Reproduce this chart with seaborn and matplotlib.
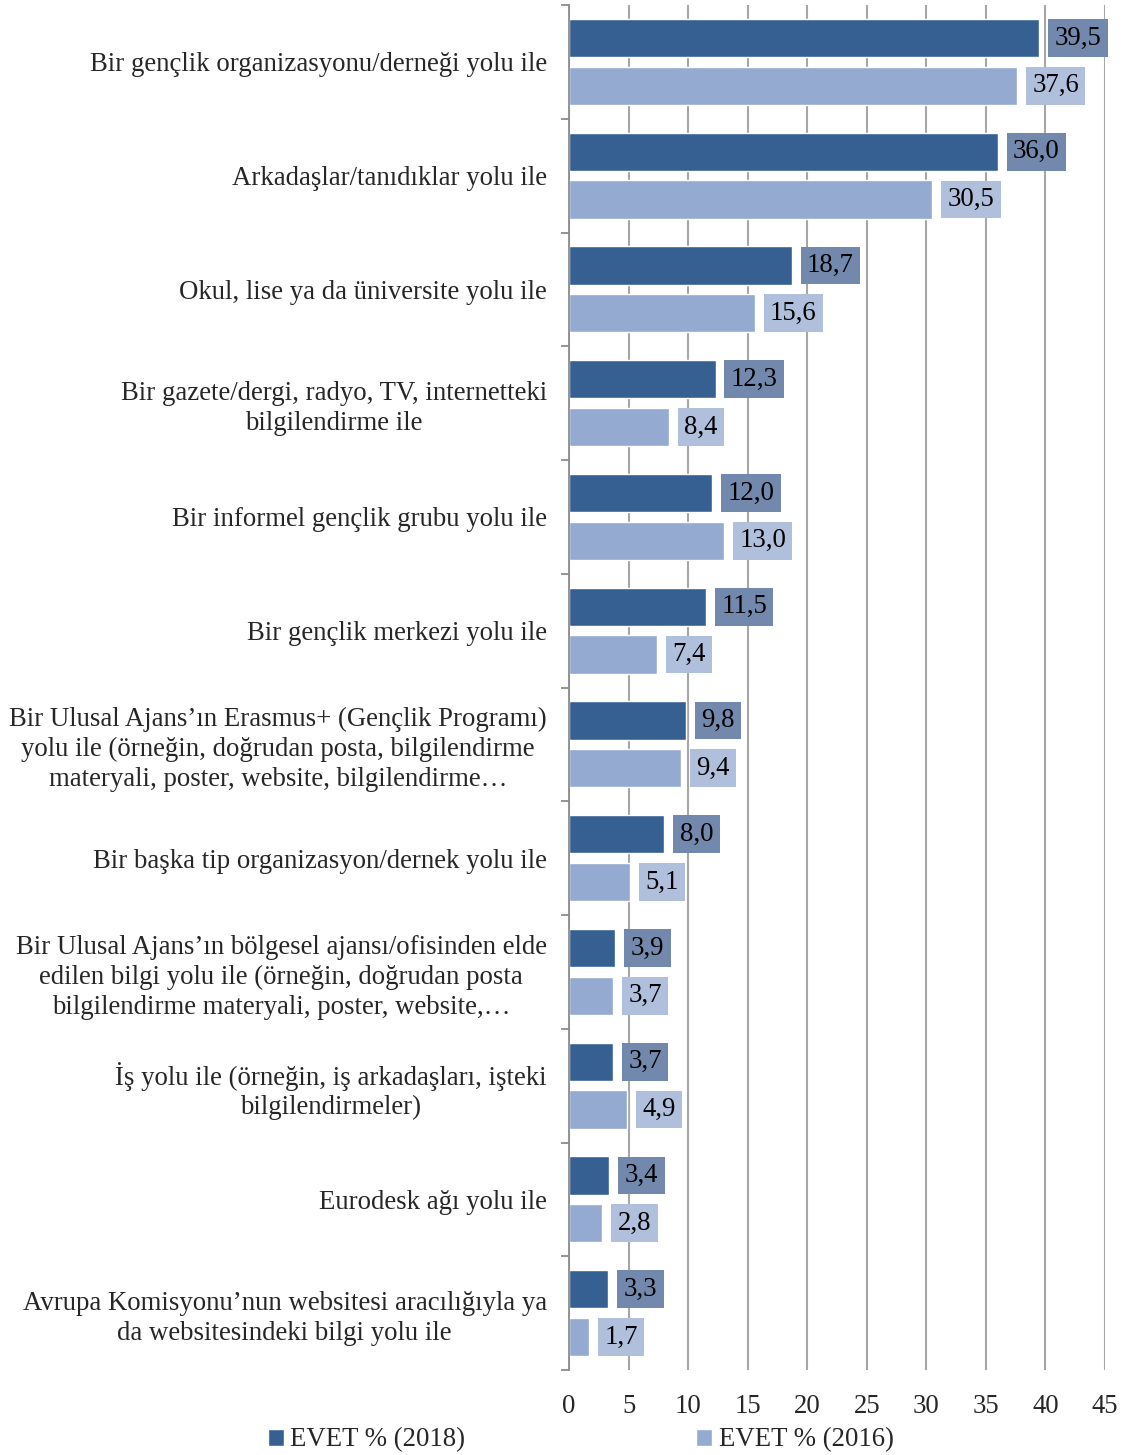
import numpy as np
import pandas as pd
import seaborn as sns
import matplotlib.pyplot as plt

sns.set_theme(style="white")
plt.rcParams['font.family'] = ['Liberation Serif', 'DejaVu Serif']

categories = [
    "Bir gençlik organizasyonu/derneği yolu ile",
    "Arkadaşlar/tanıdıklar yolu ile",
    "Okul, lise ya da üniversite yolu ile",
    "Bir gazete/dergi, radyo, TV, internetteki\nbilgilendirme ile",
    "Bir informel gençlik grubu yolu ile",
    "Bir gençlik merkezi yolu ile",
    "Bir Ulusal Ajans’ın Erasmus+ (Gençlik Programı)\nyolu ile (örneğin, doğrudan posta, bilgilendirme\nmateryali, poster, website, bilgilendirme…",
    "Bir başka tip organizasyon/dernek yolu ile",
    "Bir Ulusal Ajans’ın bölgesel ajansı/ofisinden elde\nedilen bilgi yolu ile (örneğin, doğrudan posta\nbilgilendirme materyali, poster, website,…",
    "İş yolu ile (örneğin, iş arkadaşları, işteki\nbilgilendirmeler)",
    "Eurodesk ağı yolu ile",
    "Avrupa Komisyonu’nun websitesi aracılığıyla ya\nda websitesindeki bilgi yolu ile",
]
evet_2018 = [39.5, 36.0, 18.7, 12.3, 12.0, 11.5, 9.8, 8.0, 3.9, 3.7, 3.4, 3.3]
evet_2016 = [37.6, 30.5, 15.6, 8.4, 13.0, 7.4, 9.4, 5.1, 3.7, 4.9, 2.8, 1.7]
series = ["EVET % (2018)", "EVET % (2016)"]
xticks = [0, 5, 10, 15, 20, 25, 30, 35, 40, 45]

dark = "#376092"
light = "#95AAD0"
box_colors = ["#7289AD", "#B0C0DC"]

df = pd.DataFrame({
    "kategori": categories * 2,
    "deger": evet_2018 + evet_2016,
    "seri": [series[0]] * len(categories) + [series[1]] * len(categories),
})

fig = plt.figure(figsize=(11.25, 14.55), dpi=100)
ax = fig.add_axes([569 / 1125, 1 - 1370 / 1455, (1105 - 569) / 1125, (1370 - 5) / 1455])

sns.barplot(data=df, y="kategori", x="deger", hue="seri", orient="h",
            palette=[dark, light], width=0.84, gap=0.2, saturation=1,
            ax=ax, zorder=2)

fs = 19.3
for cont, bc in zip(ax.containers, box_colors):
    labels = [f"{b.get_width():.1f}".replace(".", ",") for b in cont]
    ax.bar_label(cont, labels=labels, padding=11, fontsize=fs, color="black",
                 bbox=dict(boxstyle="square,pad=0.24", facecolor=bc, edgecolor="none"))

ax.set_xlim(0, 45)
ax.set_ylim(len(categories) - 0.5, -0.5)
ax.set_xticks(xticks)
ax.set_xticklabels([str(t) for t in xticks], fontsize=fs)
ax.xaxis.grid(True, color="#a6a6a6", linewidth=1.5, zorder=0)
ax.set_axisbelow(True)
ax.tick_params(axis="x", length=0, pad=17)

ax.set_yticks(np.arange(-0.5, len(categories), 1))
ax.set_yticklabels([])
ax.set_yticks(range(len(categories)), minor=True)
ax.set_yticklabels(categories, minor=True, fontsize=fs)
ax.tick_params(axis="y", which="major", length=6, width=1.3, color="#8c8c8c", left=True)
ax.tick_params(axis="y", which="minor", length=0, pad=16)
for lab in ax.get_yticklabels(minor=True):
    lab.set_multialignment("center")
    lab.set_linespacing(1.25)

for s in ["top", "right", "bottom"]:
    ax.spines[s].set_visible(False)
ax.spines["left"].set_color("#8c8c8c")
ax.spines["left"].set_linewidth(1.3)
ax.set_xlabel("")
ax.set_ylabel("")

ax.legend_.remove()
handles, labs = ax.get_legend_handles_labels()
fig.legend(handles, labs, loc="center", bbox_to_anchor=(0.516, 0.0103), ncol=2,
           frameon=False, fontsize=fs, handlelength=0.6, handleheight=0.6,
           handletextpad=0.25, columnspacing=8.6, borderpad=0)

fig.savefig("out.png", dpi=100)
